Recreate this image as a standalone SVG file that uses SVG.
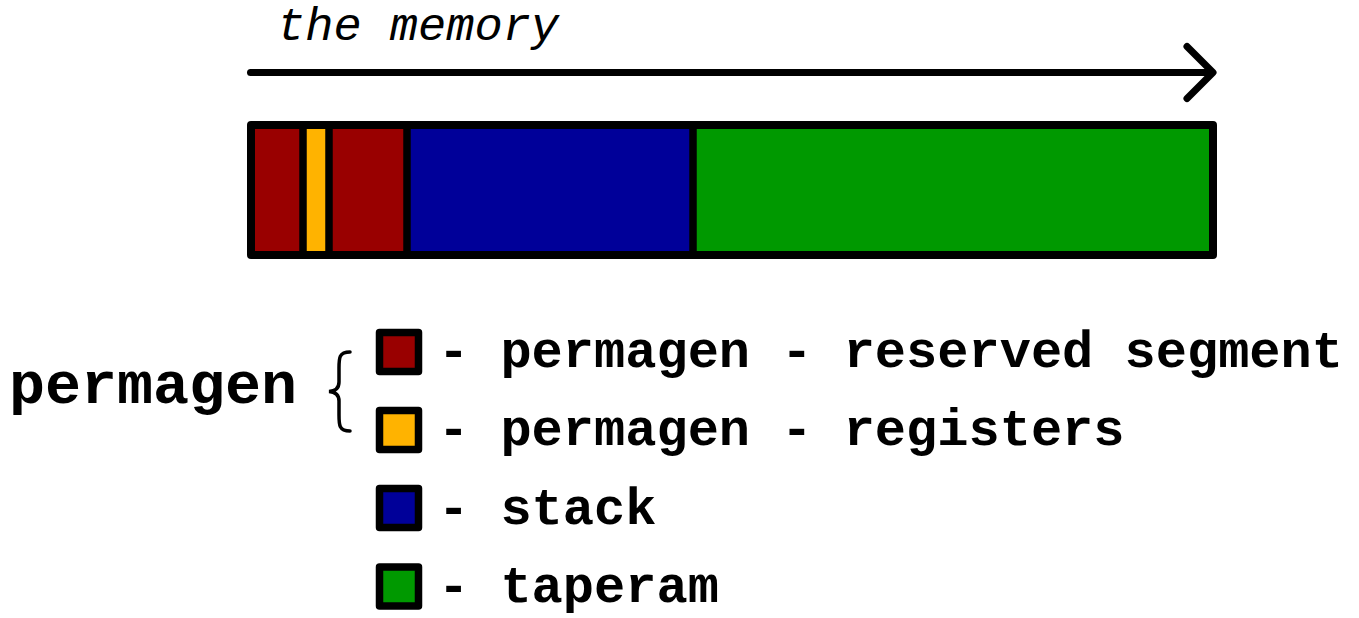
<svg xmlns="http://www.w3.org/2000/svg" width="1359" height="618" viewBox="0 0 1359 618">
<style>
.blk{stroke:#000;stroke-width:7.5;stroke-linejoin:round}
.red{fill:#990000}.yel{fill:#FFB300}.blu{fill:#000099}.grn{fill:#009900}
.mono{font-family:"Liberation Mono","Courier New",monospace;fill:#000}
.leg{font-size:52px;font-weight:bold}
</style>
<rect width="1359" height="618" fill="#fff"/>
<g id="title">
<text class="mono" x="277" y="40" font-size="47" font-style="italic">the memory</text>
</g>
<g id="connectors" fill="none" stroke="#000" stroke-width="7" stroke-linecap="round" stroke-linejoin="round">
<line x1="250.5" y1="72.5" x2="1211" y2="72.5"/>
<polyline points="1187,46.5 1213,72.5 1187,98.5"/>
</g>
<g id="memory-bar">
<rect class="red" x="251" y="125" width="52" height="130"/>
<rect class="yel" x="303" y="125" width="26" height="130"/>
<rect class="red" x="329" y="125" width="78" height="130"/>
<rect class="blu" x="407" y="125" width="286" height="130"/>
<rect class="grn" x="693" y="125" width="520" height="130"/>
<g stroke="#000" stroke-width="7.5">
<line x1="303" y1="125" x2="303" y2="255"/>
<line x1="329" y1="125" x2="329" y2="255"/>
<line x1="407" y1="125" x2="407" y2="255"/>
<line x1="693" y1="125" x2="693" y2="255"/>
</g>
<rect x="251" y="125" width="962" height="130" fill="none" stroke="#000" stroke-width="8" stroke-linejoin="round"/>
</g>
<g id="permagen-group">
<text class="mono" x="9" y="403" font-size="60" font-weight="bold">permagen</text>
<path d="M350,352 C339,352 339,358 339,368 L339,382 C339,388 336,391 329,391.5 C336,392 339,395 339,401 L339,415 C339,425 339,431 350,431" fill="none" stroke="#000" stroke-width="3.5" stroke-linecap="round"/>
</g>
<g id="legend-reserved">
<rect class="blk red" x="379.5" y="332.5" width="39" height="39"/>
<text class="mono leg" x="438" y="367">- permagen - reserved segment</text>
</g>
<g id="legend-registers">
<rect class="blk yel" x="379.5" y="410.5" width="39" height="39"/>
<text class="mono leg" x="438" y="445">- permagen - registers</text>
</g>
<g id="legend-stack">
<rect class="blk blu" x="379.5" y="488.5" width="39" height="39"/>
<text class="mono leg" x="438" y="524">- stack</text>
</g>
<g id="legend-taperam">
<rect class="blk grn" x="379.5" y="567" width="39" height="39"/>
<text class="mono leg" x="438" y="602">- taperam</text>
</g>
</svg>
